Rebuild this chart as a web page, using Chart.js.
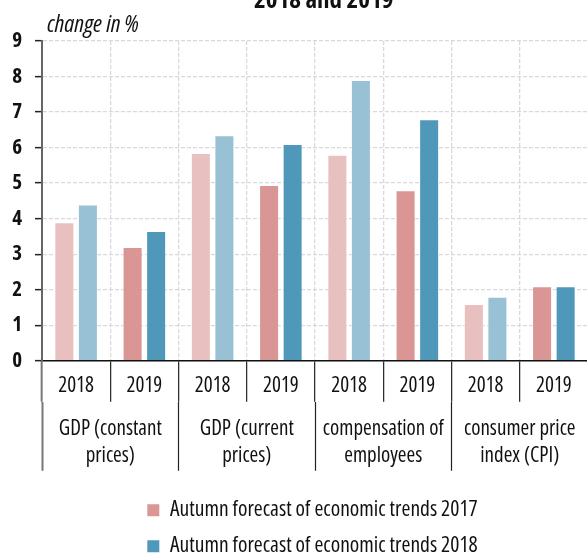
<!DOCTYPE html>
<html>
<head>
<meta charset="utf-8">
<script src="https://cdn.jsdelivr.net/npm/chart.js@4.4.0/dist/chart.umd.min.js"></script>
<style>
  html, body { margin: 0; padding: 0; background: #fff; overflow: hidden; width: 587px; height: 554px; }
  #wrap { position: absolute; left: 0; top: -20px; width: 625px; height: 587px; }
</style>
</head>
<body>
<div id="wrap"><canvas id="c" width="625" height="587"></canvas></div>
<script>
const years = ['2018', '2019', '2018', '2019', '2018', '2019', '2018', '2019'];
const categories = [
  ['GDP (constant', 'prices)'],
  ['GDP (current', 'prices)'],
  ['compensation of', 'employees'],
  ['consumer price', 'index (CPI)']
];
const seriesNames = ['Autumn forecast of economic trends 2017', 'Autumn forecast of economic trends 2018'];
const forecast2017 = [3.9, 3.2, 5.85, 4.95, 5.8, 4.8, 1.6, 2.1];
const forecast2018 = [4.4, 3.65, 6.35, 6.1, 7.9, 6.8, 1.8, 2.1];
const yTicks = [0, 1, 2, 3, 4, 5, 6, 7, 8, 9];
const titleText = '     2018 and 2019';
const yAxisLabel = 'change in %';

const pinkLight = '#e8c0c0', pinkDark = '#da9694';
const blueLight = '#98c1d5', blueDark = '#4f98b9';
const FONT = "'Open Sans', 'DejaVu Sans Condensed', sans-serif";
const COND = 'condensed';

const edgeTickColor = c => (c.index === 0 ? '#777' : '#222');
const edgeTickWidth = c => (c.index === 0 ? 2 : 1.2);

const yLabelPlugin = {
  id: 'yLabel',
  afterDraw(chart) {
    const { ctx, chartArea } = chart;
    ctx.save();
    ctx.font = 'italic condensed 24px ' + FONT;
    ctx.fillStyle = '#111';
    ctx.textAlign = 'left';
    ctx.textBaseline = 'alphabetic';
    ctx.fillText(yAxisLabel, chartArea.left + 5, chartArea.top - 9);
    ctx.restore();
  }
};

new Chart(document.getElementById('c'), {
  type: 'bar',
  data: {
    labels: years,
    datasets: [
      {
        label: seriesNames[0],
        data: forecast2017,
        backgroundColor: years.map(y => (y === '2018' ? pinkLight : pinkDark)),
        borderColor: 'rgba(255,255,255,0.45)',
        borderWidth: 1,
        legendColor: pinkDark,
        xAxisID: 'x'
      },
      {
        label: seriesNames[1],
        data: forecast2018,
        backgroundColor: years.map(y => (y === '2018' ? blueLight : blueDark)),
        borderColor: 'rgba(255,255,255,0.45)',
        borderWidth: 1,
        legendColor: blueDark,
        xAxisID: 'x'
      }
    ]
  },
  options: {
    responsive: false,
    devicePixelRatio: 1,
    animation: false,
    layout: { padding: 0 },
    datasets: { bar: { barPercentage: 0.85, categoryPercentage: 0.69 } },
    plugins: {
      title: {
        display: true,
        text: titleText,
        color: '#111',
        font: { family: FONT, size: 25, weight: 'bold ' + COND, lineHeight: 1.2 },
        padding: { top: 6, bottom: 25 }
      },
      legend: {
        display: true,
        position: 'bottom',
        labels: {
          color: '#111',
          font: { family: FONT, size: 21.5, weight: COND },
          boxWidth: 12,
          boxHeight: 12,
          padding: 14.5,
          generateLabels(chart) {
            return chart.data.datasets.map((ds, i) => ({
              text: ds.label,
              fillStyle: ds.legendColor,
              strokeStyle: ds.legendColor,
              lineWidth: 0,
              hidden: false,
              datasetIndex: i,
              fontColor: '#111'
            }));
          }
        }
      },
      tooltip: { enabled: false }
    },
    scales: {
      x: {
        type: 'category',
        position: 'bottom',
        labels: years,
        offset: true,
        grid: {
          display: true,
          offset: true,
          drawOnChartArea: true,
          color: '#d9d9d9',
          lineWidth: 1.3,
          drawTicks: true,
          tickLength: 41,
          tickColor: edgeTickColor,
          tickWidth: edgeTickWidth,
          tickBorderDash: []
        },
        border: { display: true, color: '#111', width: 1.5, dash: [4, 2] },
        ticks: {
          color: '#111',
          font: { family: FONT, size: 21, weight: '500 ' + COND, lineHeight: 1.2 },
          padding: -28,
          maxRotation: 0,
          autoSkip: false
        },
        afterFit(s) { s.height = 41; }
      },
      x2: {
        type: 'category',
        position: 'bottom',
        labels: categories,
        offset: true,
        grid: {
          display: true,
          offset: true,
          drawOnChartArea: false,
          drawTicks: true,
          tickLength: 69,
          tickColor: edgeTickColor,
          tickWidth: edgeTickWidth
        },
        border: { display: false },
        ticks: {
          color: '#111',
          font: { family: FONT, size: 21, weight: COND, lineHeight: '27px' },
          padding: -55,
          maxRotation: 0,
          autoSkip: false
        },
        afterFit(s) { s.height = 83.25; }
      },
      y: {
        type: 'linear',
        position: 'left',
        min: yTicks[0],
        max: yTicks[yTicks.length - 1],
        afterBuildTicks(s) { s.ticks = yTicks.map(v => ({ value: v })); },
        grid: {
          color: '#d9d9d9',
          lineWidth: 1.3,
          drawTicks: true,
          tickLength: 7,
          tickColor: '#222',
          tickWidth: 1.5,
          tickBorderDash: []
        },
        border: { display: true, color: '#666', width: 2, dash: [4, 2] },
        ticks: {
          color: '#111',
          font: { family: FONT, size: 21, weight: 'bold ' + COND },
          padding: 13
        },
        afterFit(s) { s.width = 42; }
      },
      y2: {
        type: 'linear',
        position: 'right',
        display: true,
        grid: { display: false, drawTicks: false },
        border: { display: false },
        ticks: { display: false },
        afterFit(s) { s.width = 37; }
      }
    }
  },
  plugins: [yLabelPlugin]
});
</script>
</body>
</html>
